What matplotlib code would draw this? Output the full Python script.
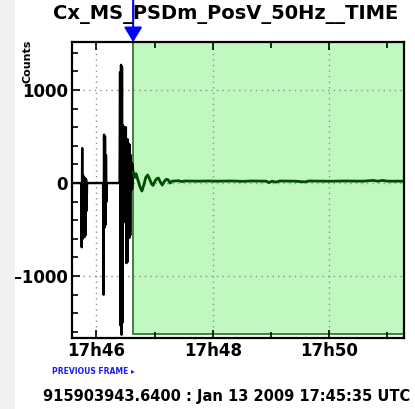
import os
os.environ.setdefault("MPLBACKEND", "Agg")

import matplotlib.pyplot as plt
from matplotlib.patches import Rectangle
from matplotlib.ticker import FixedLocator, MultipleLocator

# time in seconds after 17:45:35 UTC
black_t = [0, 9.5, 10.0, 10.5, 11.0, 11.5, 12.0, 12.5, 13.0, 13.5, 14.0, 14.5, 15.0, 15.5,
           31.5, 32.0, 32.5, 33.0, 33.5, 34.0, 34.5, 35.0, 35.5, 36.0,
           48.5, 49.0, 49.5, 50.0, 50.5, 51.0, 51.5, 52.0, 52.5, 53.0, 53.5, 54.0, 54.5,
           55.0, 55.5, 56.0, 56.5, 57.0, 57.5, 58.0, 58.5, 59.0, 59.5, 60.0, 60.5, 61.0,
           61.5, 62.0, 62.5, 63.0]
black_v = [0, 0, -690, 375, -600, 80, -580, 60, -580, 50, -560, 40, -300, 0,
           0, 0, -1200, 520, -480, 500, -450, 300, -200, 0,
           0, 0, 1190, -1530, 1270, -1630, 1250, -1500, 620, -400, 600, -420, 590,
           -400, 600, -860, 460, -850, 470, -580, 420, -590, 410, -560, 300, -80,
           220, -60, 200, 120]

green_t = [63, 64.5, 66, 68, 70, 72, 74, 76, 78, 80, 82, 83.5, 85, 87, 89, 91, 93, 95,
           97, 99, 101, 103, 106, 110, 113, 116, 130, 140, 150, 165, 175, 185, 200,
           203, 206, 210, 214, 230, 240, 244, 260, 270, 280, 300, 310, 315, 320, 325, 342]
green_v = [120, 60, 100, 30, -40, -86, -20, 60, 86, 40, -10, -25, 10, 45, 54, 10, -22, 15,
           40, 35, 0, 20, 22, 25, 15, 22, 20, 22, 20, 22, 18, 22, 20,
           5, 20, 10, 22, 20, 12, 22, 20, 20, 22, 20, 28, 20, 28, 20, 20]

green_start = 63
t_end = 342
x_ticks = [25, 145, 265]
x_tick_labels = ["17h46", "17h48", "17h50"]
x_minor = [85, 205, 325]
y_ticks = [-1000, 0, 1000]

title = "Cx_MS_PSDm_PosV_50Hz__TIME"
footer = "915903943.6400 : Jan 13 2009 17:45:35 UTC"
note = "PREVIOUS FRAME \u25b8"

fig = plt.figure(figsize=(4.15, 4.09), dpi=100)
fig.patches.append(Rectangle((0, 0), 15 / 415, 1, transform=fig.transFigure,
                             facecolor="#f0f0f0", edgecolor="none", zorder=0))
ax = fig.add_axes([0.1735, 0.1736, 0.80, 0.7236])

ax.axvspan(green_start, t_end, ymin=0.012, ymax=1.0, facecolor="#c0f8c0",
           edgecolor="#2a6a2a", lw=1.2, zorder=0)

ax.plot(black_t, black_v, color="black", lw=1.7, zorder=3)
ax.plot(green_t, green_v, color="#004d00", lw=2.0, zorder=3)

ax.set_xlim(0, t_end)
ax.set_ylim(-1665, 1515)
ax.xaxis.set_major_locator(FixedLocator(x_ticks))
ax.xaxis.set_minor_locator(FixedLocator(x_minor))
ax.set_xticklabels(x_tick_labels)
ax.set_yticks(y_ticks)
ax.yaxis.set_minor_locator(MultipleLocator(200))

ax.grid(True, which="major", color="#909090", linestyle=(0, (1, 3)), lw=1.0, zorder=1)
ax.tick_params(which="both", direction="in", top=True, right=False, width=1.2)
ax.tick_params(which="major", length=6, labelsize=12, pad=3)
ax.tick_params(which="minor", length=4)
for lab in ax.get_xticklabels() + ax.get_yticklabels():
    lab.set_fontweight("bold")
for s in ax.spines.values():
    s.set_linewidth(1.6)
    s.set_zorder(4)

fig.text(27 / 415, 1 - 40 / 409, "Counts", rotation=90, ha="center", va="top",
         fontsize=8, fontweight="bold")
fig.text(53 / 415, 1 - 14.5 / 409, title, ha="left", va="center",
         fontsize=14, fontweight="bold")
fig.text(52 / 415, 1 - 371 / 409, note, ha="left", va="center",
         fontsize=5.5, fontweight="bold", color="#1a1aff")
fig.text(43 / 415, 1 - 397 / 409, footer, ha="left", va="center",
         fontsize=10.5, fontweight="bold")

ax.annotate("", xy=(green_start, 1.0), xycoords=("data", "axes fraction"),
            xytext=(green_start, 1.16), textcoords=("data", "axes fraction"),
            arrowprops=dict(arrowstyle="-|>,head_length=0.9,head_width=0.55",
                            color="#0000ff", lw=1.5, shrinkA=0, shrinkB=0),
            annotation_clip=False)

fig.savefig("out.png", dpi=100)
plt.close(fig)
